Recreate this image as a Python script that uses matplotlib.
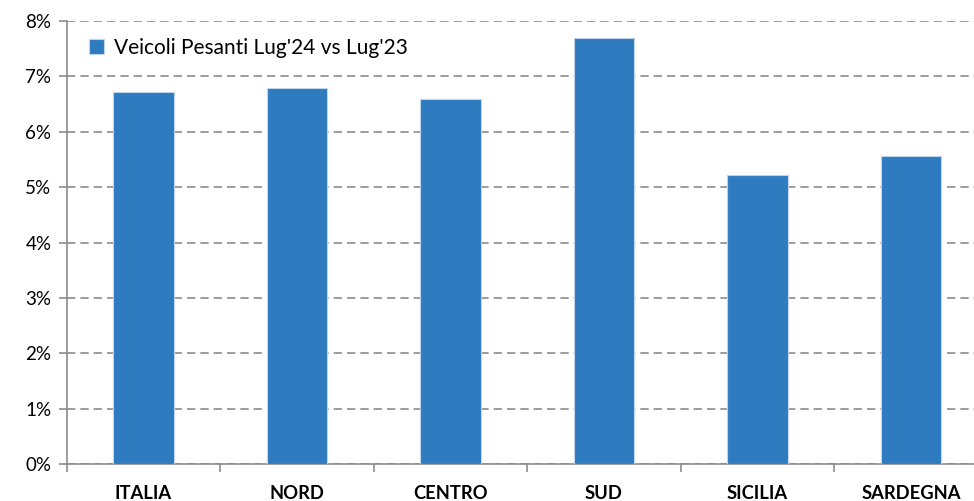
import matplotlib
matplotlib.use("Agg")
import matplotlib.pyplot as plt
from matplotlib.ticker import FuncFormatter, MultipleLocator, FixedLocator

categories = ["ITALIA", "NORD", "CENTRO", "SUD", "SICILIA", "SARDEGNA"]
values = [6.71, 6.79, 6.59, 7.69, 5.22, 5.56]
series_name = "Veicoli Pesanti Lug'24 vs Lug'23"

plt.rcParams['font.family'] = ['Lato', 'DejaVu Sans']

fig = plt.figure(figsize=(9.74, 5.01), dpi=100)
W, H = 974, 501
left, right = 66.7, 987.7
bottom, top = 464.3, 21.0
ax = fig.add_axes([left / W, 1 - bottom / H, (right - left) / W, (bottom - top) / H])

bar_color = "#2F7BC0"
x = list(range(len(categories)))
ax.bar(x, values, width=0.395, color=bar_color, edgecolor="#BFD5EC", linewidth=0.8,
       label=series_name, zorder=3)

ax.set_xlim(-0.5, len(categories) - 0.5)
ax.set_ylim(0, 8)
ax.yaxis.set_major_locator(MultipleLocator(1))
ax.yaxis.set_major_formatter(FuncFormatter(lambda v, p: f"{int(round(v))}%"))
ax.grid(axis="y", color="#8C8C8C", linestyle=(0, (5, 3)), linewidth=1.2, zorder=1)
ax.set_axisbelow(True)

ax.xaxis.set_major_locator(FixedLocator([i - 0.5 for i in range(len(categories) + 1)]))
ax.xaxis.set_major_formatter(FuncFormatter(lambda v, p: ""))
ax.xaxis.set_minor_locator(FixedLocator(x))
ax.set_xticklabels(categories, minor=True, fontsize=13.2, fontweight="bold", color="#000000")
ax.tick_params(axis="x", which="minor", length=0, pad=15)
ax.tick_params(axis="x", which="major", length=6, width=1.2, color="#8C8C8C", direction="out")
ax.tick_params(axis="y", which="major", length=6, width=1.2, color="#8C8C8C",
               labelsize=13.5, labelcolor="#000000", pad=5)

for s in ["top", "right"]:
    ax.spines[s].set_visible(False)
for s in ["left", "bottom"]:
    ax.spines[s].set_color("#8C8C8C")
    ax.spines[s].set_linewidth(1.2)

leg = ax.legend(loc="upper left", bbox_to_anchor=(0.008, 0.995), frameon=False,
                fontsize=15, handlelength=0.75, handleheight=0.75, handletextpad=0.45,
                borderaxespad=0.3)

fig.savefig("out.png", dpi=100)
